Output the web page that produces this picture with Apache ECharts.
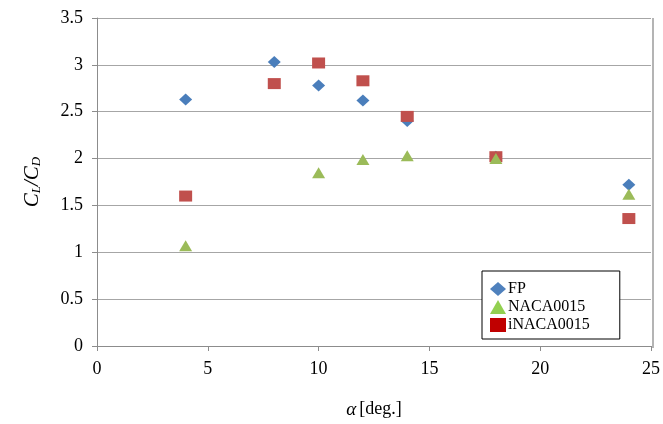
<!DOCTYPE html>
<html>
<head>
<meta charset="utf-8">
<script src="https://cdn.jsdelivr.net/npm/echarts@6/dist/echarts.min.js"></script>
<style>
  html, body { margin: 0; padding: 0; background: #fff; }
  #chart { width: 663px; height: 424px; }
</style>
</head>
<body>
<div id="chart"></div>
<script>
// Angle of attack [deg.] for each measurement
const alpha = [4, 8, 10, 12, 14, 18, 24];
// Lift-to-drag ratio C_L/C_D per profile
const fp = [2.63, 3.03, 2.78, 2.62, 2.40, 2.02, 1.72];
const naca0015 = [1.07, null, 1.85, 1.99, 2.03, 2.00, 1.62];
const inaca0015 = [1.60, 2.80, 3.02, 2.83, 2.45, 2.02, 1.36];
const xTicks = [0, 5, 10, 15, 20, 25];
const yTicks = [0, 0.5, 1, 1.5, 2, 2.5, 3, 3.5];

const pairs = (ys) => alpha.map((a, i) => [a, ys[i]]).filter(p => p[1] !== null);

const serif = '"Liberation Serif", "DejaVu Serif", serif';
const chart = echarts.init(document.getElementById('chart'));

chart.setOption({
  animation: false,
  textStyle: { fontFamily: serif },
  grid: { left: 97, right: 10, top: 18, bottom: 76 },
  xAxis: {
    type: 'value', min: 0, max: 25, interval: 5,
    axisLine: { show: true, lineStyle: { color: '#8c8c8c' } },
    axisTick: { show: true, length: 5, lineStyle: { color: '#8c8c8c' } },
    splitLine: { show: false },
    axisLabel: {
      color: '#000', fontSize: 18, fontFamily: serif, margin: 14,
      formatter: v => xTicks.includes(v) ? String(v) : ''
    },
    name: '{a|α} {t|[deg.]}',
    nameLocation: 'middle', nameGap: 54,
    nameTextStyle: {
      rich: {
        a: { fontFamily: serif, fontStyle: 'italic', fontSize: 19, color: '#000' },
        t: { fontFamily: serif, fontSize: 18, color: '#000' }
      }
    }
  },
  yAxis: {
    type: 'value', min: 0, max: 3.5, interval: 0.5,
    axisLine: { show: true, lineStyle: { color: '#8c8c8c' } },
    axisTick: { show: true, length: 5, lineStyle: { color: '#8c8c8c' } },
    splitLine: { show: true, lineStyle: { color: '#a6a6a6', width: 1 } },
    axisLabel: {
      color: '#000', fontSize: 18, fontFamily: serif, margin: 14,
      formatter: v => yTicks.includes(v) ? String(v) : ''
    },
    name: '{c|C}{s|L}{c|/C}{s|D}',
    nameLocation: 'middle', nameGap: 54, nameRotate: 90,
    nameTextStyle: {
      rich: {
        c: { fontFamily: serif, fontStyle: 'italic', fontSize: 21, color: '#000' },
        s: { fontFamily: serif, fontStyle: 'italic', fontSize: 13, color: '#000', padding: [9, 0, 0, 0] }
      }
    }
  },
  legend: {
    orient: 'vertical',
    left: 482, top: 271,
    width: 136,
    padding: [10, 30, 6, 8],
    itemGap: 2,
    itemWidth: 16, itemHeight: 14,
    backgroundColor: '#fff',
    borderColor: '#000', borderWidth: 1,
    textStyle: { fontFamily: serif, fontSize: 16, color: '#000', padding: [0, 0, 0, -3] },
    data: [
      { name: 'FP', icon: 'diamond', itemStyle: { color: '#4f81bd' } },
      { name: 'NACA0015', icon: 'triangle', itemStyle: { color: '#92d050' } },
      { name: 'iNACA0015', icon: 'rect', itemStyle: { color: '#c00000' } }
    ]
  },
  graphic: [{
    // right border of the plot area
    type: 'line', z: 1,
    shape: { x1: 653, y1: 18, x2: 653, y2: 348 },
    style: { stroke: '#b4b4b4', lineWidth: 2 }
  }],
  series: [
    {
      name: 'FP', type: 'scatter', symbol: 'diamond', symbolSize: [13, 12],
      itemStyle: { color: '#4a7ebb', opacity: 1 }, data: pairs(fp), z: 2
    },
    {
      name: 'NACA0015', type: 'scatter', symbol: 'triangle', symbolSize: [13, 11],
      itemStyle: { color: '#9bbb59', opacity: 1 }, data: pairs(naca0015), z: 4
    },
    {
      name: 'iNACA0015', type: 'scatter', symbol: 'rect', symbolSize: [13, 11],
      itemStyle: { color: '#c0504d', opacity: 1 }, data: pairs(inaca0015), z: 3
    }
  ]
});
</script>
</body>
</html>
